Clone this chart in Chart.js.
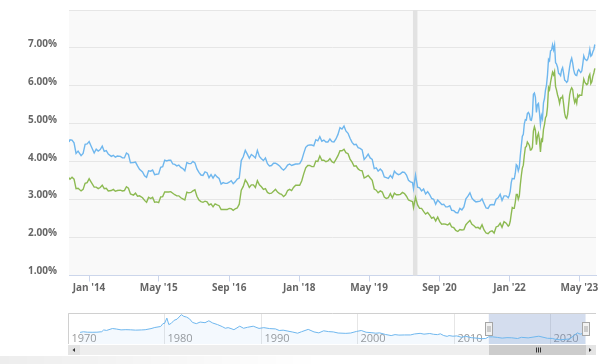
<!DOCTYPE html>
<html>
<head>
<meta charset="utf-8">
<script src="https://cdn.jsdelivr.net/npm/chart.js@4.4.0/dist/chart.umd.min.js"></script>
<style>
    html, body { margin: 0; padding: 0; background: #fff; overflow: hidden; }
    #wrap { position: relative; width: 610px; height: 364px; }
    #mainChart { position: absolute; left: 0; top: 0; }
    #navChart { position: absolute; left: 0; top: 300px; }
    #shade { position: absolute; left: 0; top: 356px; width: 320px; height: 8px;
             background: linear-gradient(to right, rgba(0,0,0,0.07), rgba(0,0,0,0)); }
</style>
</head>
<body>
<div id="wrap">
    <canvas id="mainChart" width="610" height="300"></canvas>
    <canvas id="navChart" width="610" height="64"></canvas>
    <div id="shade"></div>
</div>
<script>
// weekly survey dates (every other week until 2021, weekly after)
const weekDates = [
    '2013-08-15','2013-08-22','2013-09-05','2013-09-19','2013-10-03','2013-10-17','2013-11-07','2013-11-21','2013-12-05','2013-12-19',
    '2014-01-02','2014-01-16','2014-02-06','2014-02-20','2014-03-06','2014-03-20','2014-04-03','2014-04-17','2014-05-01','2014-05-15','2014-06-05','2014-06-19',
    '2014-07-03','2014-07-17','2014-08-07','2014-08-21','2014-09-04','2014-09-18','2014-10-02','2014-10-16','2014-11-06','2014-11-20','2014-12-04','2014-12-18',
    '2015-01-08','2015-01-22','2015-02-05','2015-02-19','2015-03-05','2015-03-19','2015-04-02','2015-04-16','2015-04-30','2015-05-14','2015-05-28','2015-06-11','2015-06-25',
    '2015-07-09','2015-07-23','2015-08-06','2015-08-20','2015-09-03','2015-09-17','2015-10-01','2015-10-15','2015-10-29','2015-11-12','2015-11-26','2015-12-10','2015-12-24',
    '2016-01-07','2016-01-21','2016-02-04','2016-02-18','2016-03-03','2016-03-17','2016-03-31','2016-04-14','2016-04-28','2016-05-12','2016-05-26','2016-06-09','2016-06-23',
    '2016-07-07','2016-07-21','2016-08-04','2016-08-18','2016-09-01','2016-09-15','2016-09-29','2016-10-13','2016-10-27','2016-11-10','2016-11-24','2016-12-08','2016-12-22',
    '2017-01-05','2017-01-19','2017-02-02','2017-02-16','2017-03-02','2017-03-16','2017-03-30','2017-04-13','2017-04-27','2017-05-11','2017-05-25','2017-06-08','2017-06-22',
    '2017-07-06','2017-07-20','2017-08-03','2017-08-17','2017-08-31','2017-09-14','2017-09-28','2017-10-12','2017-10-26','2017-11-09','2017-11-22','2017-12-07','2017-12-21',
    '2018-01-04','2018-01-18','2018-02-01','2018-02-15','2018-03-01','2018-03-15','2018-03-29','2018-04-12','2018-04-26','2018-05-10','2018-05-24','2018-06-07','2018-06-21',
    '2018-07-05','2018-07-19','2018-08-02','2018-08-16','2018-08-30','2018-09-13','2018-09-27','2018-10-11','2018-10-25','2018-11-08','2018-11-21','2018-12-06','2018-12-20',
    '2019-01-03','2019-01-17','2019-01-31','2019-02-14','2019-02-28','2019-03-14','2019-03-28','2019-04-11','2019-04-25','2019-05-09','2019-05-23','2019-06-06','2019-06-20',
    '2019-07-03','2019-07-18','2019-08-01','2019-08-15','2019-08-29','2019-09-12','2019-09-26','2019-10-10','2019-10-24','2019-11-07','2019-11-21','2019-12-05','2019-12-19',
    '2020-01-02','2020-01-16','2020-01-30','2020-02-13','2020-02-27','2020-03-05','2020-03-19','2020-04-02','2020-04-16','2020-04-30','2020-05-14','2020-05-28','2020-06-11','2020-06-25',
    '2020-07-09','2020-07-23','2020-08-06','2020-08-20','2020-09-03','2020-09-17','2020-10-01','2020-10-15','2020-10-29','2020-11-12','2020-11-25','2020-12-10','2020-12-24',
    '2021-01-07','2021-01-21','2021-02-04','2021-02-18','2021-03-04','2021-03-18','2021-04-01','2021-04-15','2021-04-29','2021-05-13','2021-05-27','2021-06-10','2021-06-24',
    '2021-07-08','2021-07-22','2021-08-05','2021-08-19','2021-09-02','2021-09-16','2021-09-30','2021-10-14','2021-10-28','2021-11-10','2021-11-24','2021-12-09','2021-12-23','2021-12-30',
    '2022-01-06','2022-01-13','2022-01-20','2022-01-27','2022-02-03','2022-02-10','2022-02-17','2022-02-24','2022-03-03','2022-03-10','2022-03-17','2022-03-24','2022-03-31',
    '2022-04-07','2022-04-14','2022-04-21','2022-04-28','2022-05-05','2022-05-12','2022-05-19','2022-05-26','2022-06-02','2022-06-09','2022-06-16','2022-06-23','2022-06-30',
    '2022-07-07','2022-07-14','2022-07-21','2022-07-28','2022-08-04','2022-08-11','2022-08-18','2022-08-25','2022-09-01','2022-09-08','2022-09-15','2022-09-22','2022-09-29',
    '2022-10-06','2022-10-13','2022-10-20','2022-10-27','2022-11-03','2022-11-10','2022-11-17','2022-11-23','2022-12-01','2022-12-08','2022-12-15','2022-12-22','2022-12-29',
    '2023-01-05','2023-01-12','2023-01-19','2023-01-26','2023-02-02','2023-02-09','2023-02-16','2023-02-23','2023-03-02','2023-03-09','2023-03-16','2023-03-23','2023-03-30',
    '2023-04-06','2023-04-13','2023-04-20','2023-04-27','2023-05-04','2023-05-11','2023-05-18','2023-05-25','2023-06-01','2023-06-08','2023-06-15','2023-06-22','2023-06-29',
    '2023-07-06','2023-07-13','2023-07-20','2023-07-27','2023-08-03','2023-08-10','2023-08-17'
];

// 30-year fixed rate, %
const rate30 = [
    4.52,4.58,4.57,4.50,4.22,4.28,4.16,4.22,4.46,4.47,
    4.53,4.41,4.23,4.33,4.28,4.32,4.41,4.27,4.29,4.20,4.14,4.17,4.12,4.15,4.14,4.10,4.10,4.23,4.19,3.97,3.98,3.99,3.89,3.80,
    3.73,3.63,3.59,3.76,3.75,3.78,3.66,3.67,3.68,3.85,3.87,4.04,4.02,4.04,4.04,3.94,3.93,3.89,3.91,3.85,3.82,3.76,3.98,3.95,3.95,4.01,
    3.97,3.81,3.72,3.65,3.64,3.73,3.71,3.58,3.66,3.57,3.66,3.60,3.56,3.41,3.45,3.43,3.43,3.46,3.50,3.42,3.47,3.54,3.57,4.03,4.13,4.30,
    4.20,4.09,4.19,4.15,4.10,4.30,4.14,4.08,4.03,4.10,3.95,3.89,3.90,3.96,3.96,3.93,3.89,3.82,3.78,3.83,3.91,3.94,3.90,3.92,3.94,3.94,
    3.95,4.04,4.22,4.38,4.43,4.44,4.44,4.42,4.58,4.55,4.66,4.54,4.57,4.52,4.52,4.60,4.53,4.52,4.60,4.72,4.90,4.86,4.94,4.81,4.75,4.62,
    4.51,4.45,4.46,4.37,4.35,4.31,4.06,4.12,4.20,4.10,4.06,3.82,3.84,3.75,3.81,3.75,3.60,3.58,3.56,3.64,3.57,3.75,3.69,3.66,3.68,3.73,
    3.72,3.65,3.51,3.47,3.45,3.29,3.65,3.33,3.31,3.23,3.28,3.15,3.21,3.13,3.03,3.01,2.88,2.99,2.93,2.87,2.88,2.81,2.81,2.84,2.72,2.71,2.66,
    2.65,2.77,2.73,2.81,3.02,3.09,3.18,3.04,2.98,2.94,2.95,2.96,3.02,2.90,2.78,2.77,2.86,2.87,2.86,3.01,3.05,3.14,2.98,3.10,3.10,3.05,3.11,
    3.22,3.45,3.56,3.55,3.55,3.69,3.92,3.89,3.76,3.85,4.16,4.42,4.67,4.72,5.00,5.11,5.10,5.27,5.30,5.25,5.10,5.09,5.23,5.78,5.81,5.70,
    5.30,5.51,5.54,5.30,4.99,5.22,5.13,5.55,5.66,5.89,6.02,6.29,6.70,6.66,6.92,6.94,7.08,6.95,7.08,6.61,6.58,6.49,6.33,6.31,6.27,6.42,
    6.48,6.33,6.15,6.13,6.09,6.12,6.32,6.50,6.65,6.73,6.60,6.42,6.32,6.28,6.27,6.39,6.43,6.39,6.35,6.39,6.57,6.79,6.71,6.69,6.67,6.71,
    6.81,6.96,6.78,6.81,6.90,6.96,7.09
];

// 15-year fixed rate, %
const rate15 = [
    3.58,3.54,3.59,3.54,3.29,3.30,3.23,3.27,3.43,3.45,
    3.55,3.46,3.33,3.33,3.29,3.32,3.38,3.29,3.30,3.23,3.24,3.27,3.22,3.24,3.25,3.23,3.24,3.34,3.30,3.15,3.12,3.17,3.09,3.10,
    3.05,2.98,2.93,3.06,3.03,3.06,2.93,2.94,2.92,3.07,3.08,3.20,3.20,3.20,3.21,3.17,3.13,3.10,3.10,3.05,3.02,2.99,3.20,3.18,3.19,3.23,
    3.26,3.09,2.99,2.95,2.93,2.96,2.94,2.86,2.89,2.81,2.89,2.86,2.84,2.74,2.74,2.74,2.74,2.77,2.76,2.72,2.76,2.78,2.88,3.25,3.35,3.52,
    3.44,3.32,3.39,3.39,3.32,3.50,3.39,3.34,3.27,3.29,3.19,3.16,3.17,3.22,3.27,3.20,3.16,3.14,3.08,3.13,3.24,3.27,3.24,3.32,3.38,3.38,
    3.38,3.49,3.68,3.84,3.90,3.90,3.87,3.87,4.02,4.01,4.15,4.04,4.04,4.00,4.02,4.08,4.00,3.97,4.06,4.16,4.29,4.29,4.33,4.24,4.21,4.07,
    3.99,3.88,3.89,3.81,3.77,3.76,3.57,3.60,3.64,3.57,3.51,3.28,3.25,3.18,3.23,3.20,3.07,3.03,3.05,3.16,3.05,3.17,3.13,3.13,3.14,3.19,
    3.16,3.09,2.99,2.97,2.95,2.79,3.06,2.86,2.77,2.77,2.69,2.62,2.66,2.59,2.51,2.54,2.44,2.54,2.42,2.35,2.36,2.35,2.33,2.38,2.28,2.26,2.19,
    2.16,2.21,2.20,2.21,2.34,2.40,2.45,2.35,2.31,2.26,2.27,2.23,2.34,2.20,2.12,2.10,2.16,2.18,2.12,2.28,2.30,2.38,2.27,2.42,2.38,2.30,2.33,
    2.43,2.62,2.79,2.77,2.77,2.93,3.14,3.14,3.01,3.09,3.39,3.63,3.83,3.91,4.17,4.38,4.40,4.52,4.48,4.43,4.31,4.32,4.38,4.81,4.92,4.83,
    4.45,4.67,4.75,4.58,4.26,4.59,4.55,4.85,4.98,5.16,5.21,5.44,5.96,5.90,6.09,6.23,6.36,6.29,6.38,5.98,5.90,5.76,5.67,5.54,5.68,5.68,
    5.73,5.52,5.28,5.17,5.14,5.25,5.51,5.76,5.89,5.95,5.90,5.68,5.56,5.64,5.54,5.76,5.71,5.76,5.75,5.75,5.97,6.18,6.10,6.06,6.03,6.06,
    6.24,6.30,6.06,6.11,6.25,6.34,6.46
];

const recessionStart = ['2020-03-01'];
const recessionEnd = ['2020-04-01'];

const xTickDates = ['2014-01-01','2015-05-01','2016-09-01','2018-01-01','2019-05-01','2020-09-01','2022-01-01','2023-05-01'];
const xTickLabels = ["Jan '14","May '15","Sep '16","Jan '18","May '19","Sep '20","Jan '22","May '23"];
const viewStart = '2013-08-15';
const viewEnd = '2023-08-25';

// navigator: long history of the 30-year rate (fractional year, %)
const navYears = [
    1971.25,1971.6,1972.0,1972.5,1973.0,1973.5,1973.7,1974.0,1974.6,1975.0,1975.5,1976.0,1976.5,1977.0,1977.6,1978.0,1978.6,1979.0,1979.6,1979.85,
    1980.0,1980.25,1980.45,1980.7,1981.0,1981.3,1981.75,1982.0,1982.3,1982.6,1982.9,1983.3,1983.7,1984.2,1984.6,1985.0,1985.5,1986.0,1986.3,1986.6,
    1986.9,1987.2,1987.8,1988.2,1988.6,1989.2,1989.8,1990.3,1990.9,1991.5,1991.9,1992.3,1992.8,1993.3,1993.8,1994.2,1994.9,1995.5,1996.0,1996.5,
    1997.0,1997.5,1998.0,1998.8,1999.3,1999.9,2000.4,2000.9,2001.5,2001.9,2002.3,2002.9,2003.5,2003.9,2004.3,2004.9,2005.5,2005.9,2006.5,2006.9,
    2007.5,2007.9,2008.3,2008.6,2008.95,2009.3,2009.5,2009.9,2010.3,2010.8,2011.2,2011.8,2012.5,2012.9,2013.3,2013.6,2014.0,2014.5,2015.0,2015.5,
    2016.0,2016.6,2017.0,2017.7,2018.8,2019.7,2020.2,2020.5,2021.0,2021.5,2022.0,2022.5,2022.8,2023.1,2023.63
];
const navRates = [
    7.31,7.69,7.44,7.38,7.44,7.73,8.85,8.54,9.74,9.43,8.88,9.02,8.92,8.72,8.84,8.98,9.68,10.38,11.0,12.9,
    12.88,16.3,12.2,13.0,14.9,15.6,18.45,17.4,16.9,15.8,13.6,12.8,13.8,13.4,14.6,13.2,12.2,10.9,9.9,10.3,
    9.7,9.0,11.2,9.9,10.5,11.2,9.8,10.3,9.7,9.5,8.5,8.7,8.1,7.5,6.8,7.7,9.2,7.6,7.0,8.3,
    7.8,7.6,6.9,6.7,6.9,7.9,8.5,7.4,7.1,6.8,7.0,6.0,5.3,5.9,5.6,5.7,5.7,6.3,6.7,6.2,
    6.6,6.1,5.9,6.4,5.3,4.8,5.3,4.9,5.1,4.2,4.9,4.0,3.6,3.35,3.45,4.5,4.5,4.15,3.7,4.0,
    3.9,3.45,4.2,3.85,4.9,3.6,3.5,3.0,2.65,2.9,3.2,5.6,7.0,6.2,7.09
];
const navTickYears = [1970, 1980, 1990, 2000, 2010, 2020];
const navTickLabels = ['1970', '1980', '1990', '2000', '2010', '2020'];

const blue = '#6fb7ee';
const green = '#8dba52';
const labelFont = { family: "'Open Sans', sans-serif", size: 10, weight: 'bold' };

function yearOf(ms)
{
    return 1970 + ms / (365.2425 * 864e5);
}

const xMin = Date.parse(viewStart);
const xMax = Date.parse(viewEnd);

const plotBackground = {
    id: 'plotBackground',
    beforeDraw(chart) {
        const { ctx, chartArea: a } = chart;
        ctx.save();
        ctx.fillStyle = '#f9f9f9';
        ctx.fillRect(a.left, a.top, a.right - a.left, a.bottom - a.top);
        ctx.restore();
    },
    beforeDatasetsDraw(chart) {
        const { ctx, chartArea: a, scales: { x } } = chart;
        ctx.save();
        ctx.fillStyle = '#e2e2e2';
        recessionStart.forEach((s, i) => {
            const x1 = x.getPixelForValue(Date.parse(s));
            const x2 = x.getPixelForValue(Date.parse(recessionEnd[i]));
            ctx.fillRect(x1, a.top, x2 - x1, a.bottom - a.top);
        });
        ctx.restore();
    }
};

new Chart(document.getElementById('mainChart'), {
    type: 'line',
    data: {
        datasets: [
            {
                label: '30-Year Fixed',
                data: weekDates.map((d, i) => ({ x: Date.parse(d), y: rate30[i] })),
                borderColor: blue,
                borderWidth: 1.4,
                pointRadius: 0,
                tension: 0
            },
            {
                label: '15-Year Fixed',
                data: weekDates.map((d, i) => ({ x: Date.parse(d), y: rate15[i] })),
                borderColor: green,
                borderWidth: 1.4,
                pointRadius: 0,
                tension: 0
            }
        ]
    },
    options: {
        responsive: false,
        animation: false,
        events: [],
        layout: { padding: { left: 0, top: 10, right: 14, bottom: 0 } },
        plugins: { legend: { display: false }, tooltip: { enabled: false } },
        scales: {
            x: {
                type: 'linear',
                min: xMin,
                max: xMax,
                afterBuildTicks: (scale) => {
                    scale.ticks = xTickDates.map(d => ({ value: Date.parse(d) }));
                },
                afterFit: (scale) => { scale.height = 24.5; },
                border: { color: '#ccd6eb', width: 1 },
                grid: { drawOnChartArea: false, drawTicks: true, tickLength: 6, color: '#ccd6eb' },
                ticks: {
                    autoSkip: false,
                    maxRotation: 0,
                    padding: 1,
                    color: '#666',
                    font: labelFont,
                    callback: (value, index) => xTickLabels[index]
                }
            },
            y: {
                min: 1,
                max: 8,
                afterFit: (scale) => {
                    scale.width = 69;
                    scale.paddingTop = 0;
                },
                border: { display: false },
                grid: { color: '#e6e6e6', drawTicks: false },
                ticks: {
                    stepSize: 1,
                    padding: 12,
                    labelOffset: -4,
                    color: '#666',
                    font: labelFont,
                    callback: (value) => value === 8 ? '' : value.toFixed(2) + '%'
                }
            }
        }
    },
    plugins: [plotBackground]
});

const navigatorDecor = {
    id: 'navigatorDecor',
    beforeDatasetsDraw(chart) {
        const { ctx, chartArea: a, scales: { x } } = chart;
        ctx.save();
        ctx.strokeStyle = '#e6e6e6';
        ctx.lineWidth = 1;
        ctx.fillStyle = '#999';
        ctx.font = "11px 'Open Sans', sans-serif";
        ctx.textBaseline = 'middle';
        navTickYears.forEach((yr, i) => {
            const px = Math.round(x.getPixelForValue(yr)) + 0.5;
            ctx.beginPath();
            ctx.moveTo(px, a.top);
            ctx.lineTo(px, a.bottom);
            ctx.stroke();
            ctx.fillText(navTickLabels[i], px + 3, 38.5);
        });
        const m1 = x.getPixelForValue(yearOf(xMin));
        const m2 = x.getPixelForValue(yearOf(xMax));
        ctx.fillStyle = 'rgba(102,133,194,0.28)';
        ctx.fillRect(m1, a.top, m2 - m1, a.bottom - a.top);
        ctx.restore();
    },
    afterDraw(chart) {
        const { ctx, chartArea: a, scales: { x } } = chart;
        const m1 = Math.round(x.getPixelForValue(yearOf(xMin)));
        const m2 = Math.round(x.getPixelForValue(yearOf(xMax)));
        ctx.save();
        // outline
        ctx.strokeStyle = '#d0d0d0';
        ctx.lineWidth = 1;
        ctx.beginPath();
        ctx.moveTo(a.left + 0.5, a.bottom);
        ctx.lineTo(a.left + 0.5, a.top + 0.5);
        ctx.lineTo(a.right, a.top + 0.5);
        ctx.stroke();

        // handles
        [m1, m2].forEach(hx => {
            ctx.fillStyle = '#f2f2f2';
            ctx.strokeStyle = '#a6a6a6';
            ctx.fillRect(hx - 3.5, 22.5, 7, 13);
            ctx.strokeRect(hx - 3.5, 22.5, 7, 13);
            ctx.beginPath();
            ctx.moveTo(hx - 1, 26); ctx.lineTo(hx - 1, 32);
            ctx.moveTo(hx + 1, 26); ctx.lineTo(hx + 1, 32);
            ctx.stroke();
        });

        // scrollbar
        const sy = 45, sh = 10;
        ctx.fillStyle = '#eeeeee';
        ctx.fillRect(a.left, sy, a.right - a.left, sh);
        ctx.fillStyle = '#e4e4e4';
        ctx.fillRect(a.left, sy, 12, sh);
        ctx.fillRect(a.right - 12, sy, 12, sh);
        ctx.fillStyle = '#cccccc';
        ctx.fillRect(m1, sy, m2 - m1, sh);
        ctx.fillStyle = '#333';
        ctx.beginPath();
        ctx.moveTo(a.left + 4.5, sy + 5); ctx.lineTo(a.left + 7, sy + 3); ctx.lineTo(a.left + 7, sy + 7);
        ctx.fill();
        ctx.beginPath();
        ctx.moveTo(a.right - 4.5, sy + 5); ctx.lineTo(a.right - 7, sy + 3); ctx.lineTo(a.right - 7, sy + 7);
        ctx.fill();
        const gx = Math.round((m1 + m2) / 2) + 0.5;
        ctx.strokeStyle = '#333';
        ctx.beginPath();
        [-2, 0, 2].forEach(d => { ctx.moveTo(gx + d, sy + 2.5); ctx.lineTo(gx + d, sy + 7.5); });
        ctx.stroke();
        ctx.restore();
    }
};

new Chart(document.getElementById('navChart'), {
    type: 'line',
    data: {
        datasets: [{
            data: navYears.map((yr, i) => ({ x: yr, y: navRates[i] })),
            borderColor: blue,
            borderWidth: 1,
            backgroundColor: 'rgba(111,183,238,0.08)',
            fill: 'start',
            pointRadius: 0,
            tension: 0
        }]
    },
    options: {
        responsive: false,
        animation: false,
        events: [],
        layout: { padding: { left: 68, top: 13, right: 14, bottom: 20 } },
        plugins: { legend: { display: false }, tooltip: { enabled: false } },
        scales: {
            x: { type: 'linear', min: 1970, max: 2024.73, display: false },
            y: { min: 0, max: 19.5, display: false }
        }
    },
    plugins: [navigatorDecor]
});
</script>
</body>
</html>
